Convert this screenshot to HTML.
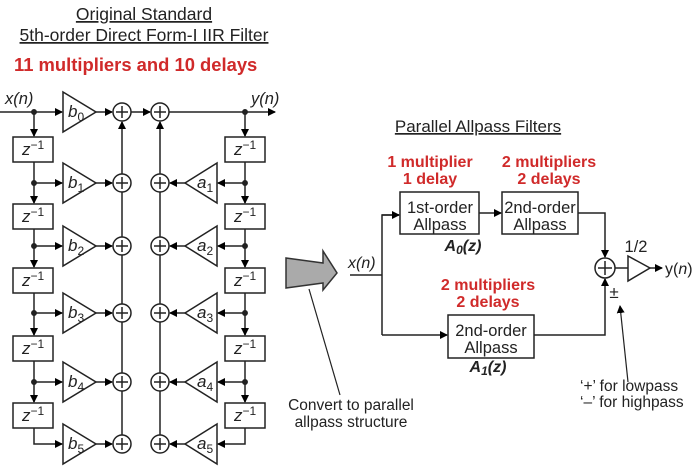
<!DOCTYPE html>
<html><head><style>
body{margin:0;background:#fff}
svg{display:block;font-family:"Liberation Sans",sans-serif}
</style></head><body>
<svg width="700" height="467" viewBox="0 0 700 467" xmlns="http://www.w3.org/2000/svg">
<defs>
<marker id="a" markerWidth="8" markerHeight="8" refX="7" refY="4" orient="auto" markerUnits="userSpaceOnUse"><path d="M0,0 L8,4 L0,8z" fill="#000"/></marker>
</defs>
<g fill="#222" font-size="17.5" text-anchor="middle">
<text x="144" y="20" text-decoration="underline">Original Standard</text>
<text x="144" y="41" text-decoration="underline">5th-order Direct Form-I IIR Filter</text>
</g>
<text x="14" y="71" font-size="18.4" font-weight="bold" fill="#d02a2a">11 multipliers and 10 delays</text>
<g stroke="#222" stroke-width="1.5" fill="none">
<line x1="0" y1="112" x2="62" y2="112" marker-end="url(#a)"/>
<line x1="96" y1="112" x2="112" y2="112" marker-end="url(#a)"/>
<line x1="131" y1="112" x2="150" y2="112" marker-end="url(#a)"/>
<line x1="169" y1="112" x2="275" y2="112" marker-end="url(#a)"/>
<line x1="122" y1="435" x2="122" y2="122" marker-end="url(#a)"/>
<line x1="160" y1="435" x2="160" y2="122" marker-end="url(#a)"/>
</g>
<g id="rows" stroke="#222" stroke-width="1.5" fill="none"></g>
<g font-size="16.5" fill="#222">
<text x="5" y="104" font-style="italic">x(n)</text>
<text x="251" y="104" font-style="italic">y(n)</text>
</g>
<script>
(function(){
var ns="http://www.w3.org/2000/svg",g=document.getElementById("rows");
function el(t,a,p){var e=document.createElementNS(ns,t);for(var k in a)e.setAttribute(k,a[k]);(p||g).appendChild(e);return e;}
function txt(x,y,s,sub){var t=el("text",{x:x,y:y,"font-size":17,fill:"#222",stroke:"none","font-style":"italic"});t.textContent=s;var ts=el("tspan",{"font-size":12,dy:4,"font-style":"normal"},t);ts.textContent=sub;return t;}
var rows=[112,183,246,313,382,444];
var zb=[137,204,268,336,403];
for(var i=0;i<6;i++){var y=rows[i];
 [122,160].forEach(function(cx){el("circle",{cx:cx,cy:y,r:9,fill:"#fff"});el("line",{x1:cx-6,y1:y,x2:cx+6,y2:y});el("line",{x1:cx,y1:y-6,x2:cx,y2:y+6});});
 el("polygon",{points:"63,"+(y-20)+" 96,"+y+" 63,"+(y+20),fill:"#fff"});
 txt(68,y+5,"b",String(i));
 if(i>0){
  el("line",{x1:96,y1:y,x2:112,y2:y,"marker-end":"url(#a)"});
  el("polygon",{points:"217,"+(y-20)+" 185,"+y+" 217,"+(y+20),fill:"#fff"});
  txt(197,y+5,"a",String(i));
  el("line",{x1:185,y1:y,x2:170,y2:y,"marker-end":"url(#a)"});
  if(i<5){
   el("line",{x1:34,y1:y,x2:62,y2:y,"marker-end":"url(#a)"});
   el("circle",{cx:34,cy:y,r:2.2,fill:"#222"});
   el("line",{x1:245,y1:y,x2:218,y2:y,"marker-end":"url(#a)"});
   el("circle",{cx:245,cy:y,r:2.2,fill:"#222"});
  }
 } else {
  el("circle",{cx:34,cy:y,r:2.2,fill:"#222"});el("circle",{cx:245,cy:y,r:2.2,fill:"#222"});
 }
}
for(var j=0;j<5;j++){var t=zb[j];
 var prev=rows[j];
 el("line",{x1:34,y1:prev,x2:34,y2:t-1,"marker-end":"url(#a)"});
 el("line",{x1:245,y1:prev,x2:245,y2:t-1,"marker-end":"url(#a)"});
 el("rect",{x:13,y:t,width:40,height:25,fill:"#fff"});
 el("rect",{x:225,y:t,width:40,height:25,fill:"#fff"});
 [33,245].forEach(function(cx){var tt=el("text",{x:cx-11,y:t+18,"font-size":17,fill:"#222",stroke:"none","font-style":"italic"});tt.textContent="z";var s=el("tspan",{"font-size":12,dy:-6,"font-style":"normal"},tt);s.textContent="−1";});
 if(j<4){el("line",{x1:34,y1:t+25,x2:34,y2:rows[j+1]});el("line",{x1:245,y1:t+25,x2:245,y2:rows[j+1]});}
}
el("polyline",{points:"34,428 34,444 62,444","marker-end":"url(#a)"});
el("polyline",{points:"245,428 245,444 218,444","marker-end":"url(#a)"});
})();
</script>
<polygon points="286,258 323,263 323,251 337,273 323,290 323,283 286,288" fill="#aaa" stroke="#333" stroke-width="1.5"/>
<line x1="309" y1="289" x2="340" y2="395" stroke="#222" stroke-width="1.2"/>
<g font-size="15.5" fill="#222" text-anchor="middle">
<text x="351" y="410">Convert to parallel</text>
<text x="351" y="427">allpass structure</text>
<text x="478" y="132" font-size="17" text-decoration="underline">Parallel Allpass Filters</text>
</g>
<g font-size="16" font-weight="bold" fill="#d02a2a" text-anchor="middle">
<text x="430" y="167">1 multiplier</text><text x="430" y="184">1 delay</text>
<text x="549" y="167">2 multipliers</text><text x="549" y="184">2 delays</text>
<text x="488" y="290">2 multipliers</text><text x="488" y="307">2 delays</text>
</g>
<g stroke="#222" stroke-width="1.5" fill="none">
<rect x="400" y="192" width="79" height="42" fill="#fff"/>
<rect x="502" y="192" width="76" height="42" fill="#fff"/>
<rect x="448" y="315" width="86" height="43" fill="#fff"/>
<line x1="350" y1="275" x2="382" y2="275"/>
<polyline points="382,335 382,215 399,215"/>
<line x1="382" y1="215" x2="399" y2="215" marker-end="url(#a)"/>
<line x1="382" y1="335" x2="447" y2="335" marker-end="url(#a)"/>
<line x1="479" y1="213" x2="501" y2="213" marker-end="url(#a)"/>
<polyline points="578,213 605,213 605,257" marker-end="url(#a)"/>
<polyline points="534,335 605,335 605,279" marker-end="url(#a)"/>
<circle cx="605" cy="268" r="10" fill="#fff"/>
<line x1="598" y1="268" x2="612" y2="268"/><line x1="605" y1="261" x2="605" y2="275"/>
<line x1="615" y1="268" x2="628" y2="268"/>
<polygon points="628,256 650,268 628,281" fill="#fff"/>
<line x1="650" y1="268" x2="662" y2="268" marker-end="url(#a)"/>
<line x1="628" y1="382" x2="620" y2="306" stroke-width="1.2" marker-end="url(#a)"/>
</g>
<g font-size="16.5" fill="#222" text-anchor="middle">
<text x="440" y="213">1st-order</text><text x="440" y="230">Allpass</text>
<text x="540" y="213">2nd-order</text><text x="540" y="230">Allpass</text>
<text x="491" y="336">2nd-order</text><text x="491" y="353">Allpass</text>
<text x="636" y="252">1/2</text>
<text x="614" y="298" font-size="17">±</text>
</g>
<text x="348" y="268" font-size="16" fill="#222" font-style="italic">x(n)</text>
<text x="665" y="274" font-size="16" fill="#222">y(<tspan font-style="italic">n</tspan>)</text>
<g font-size="16" font-weight="bold" font-style="italic" fill="#222" text-anchor="middle">
<text x="463" y="251">A<tspan font-size="12" dy="3">0</tspan><tspan dy="-3">(z)</tspan></text>
<text x="488" y="372">A<tspan font-size="12" dy="3">1</tspan><tspan dy="-3">(z)</tspan></text>
</g>
<g font-size="15.5" fill="#222">
<text x="580" y="391">‘+’ for lowpass</text>
<text x="580" y="407">‘–’ for highpass</text>
</g>
</svg>
</body></html>
